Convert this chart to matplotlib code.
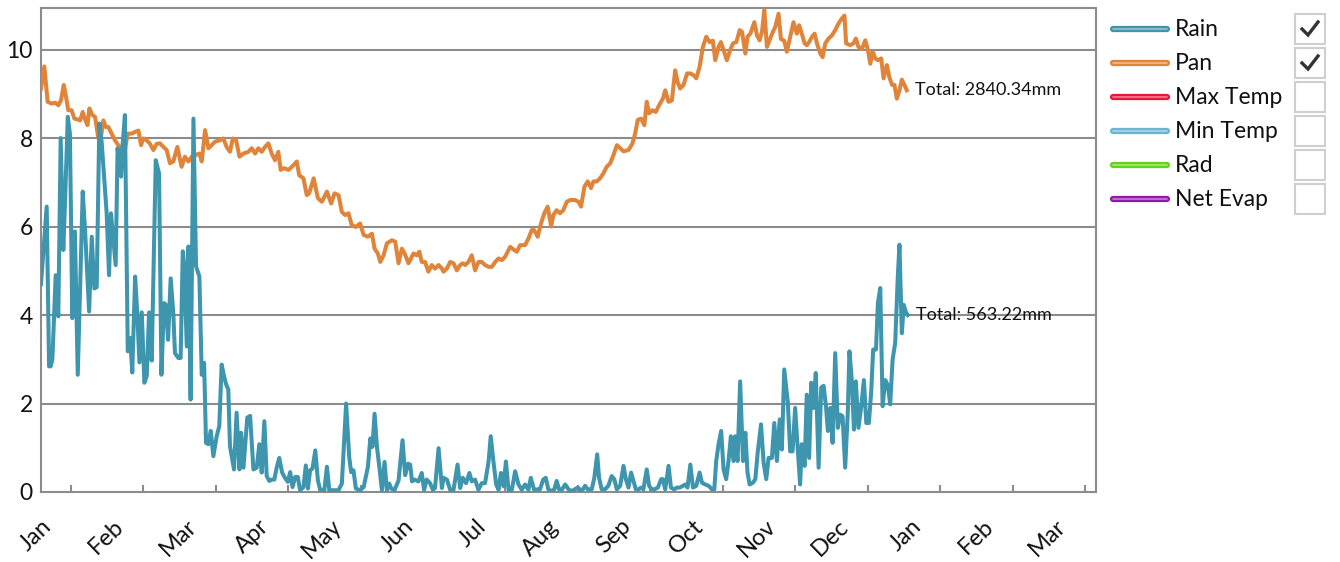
import numpy as np
import matplotlib
matplotlib.use('Agg')
from matplotlib import pyplot as plt
from matplotlib.lines import Line2D
from matplotlib.patches import Rectangle
from matplotlib.transforms import Affine2D

plt.rcParams['font.family'] = ['Lato', 'DejaVu Sans']

# daily values (day of year, mm)
pan_day = [0, 1.4, 2.8, 4.5, 6, 7.3, 8.4, 9.6, 10.4, 11.5, 12.9, 14.1, 15.5, 16.5, 17.6, 18.6,
           19.6, 20.4, 21.7, 22.8, 24.2, 25.3, 26.3, 27.3, 28.4, 29.8, 31.2, 32.6, 34.0, 35.2,
           36.6, 38.3, 39.7, 41.1, 42.2, 43.2, 44.6, 46.0, 47.4, 48.8, 50.2, 51.6, 53.0, 54.4,
           55.8, 57.5, 59.3, 60.7, 62.2, 63.6, 65.4, 66.8, 67.8, 69.2, 70.6, 72.0, 73.4, 75.5,
           76.9, 78.3, 79.7, 80.9, 82.3, 83.7, 85.4, 87.5, 88.9, 90.3, 91.7, 93.1, 94.5, 95.9,
           97.3, 98.7, 100.1, 101.1, 102.5, 104.4, 105.8, 107.9, 108.9, 110.7, 112.1, 113.1,
           115.0, 116.8, 118.5, 120.6, 122.4, 123.8, 125.5, 126.9, 128.3, 129.7, 131.1, 132.8,
           134.6, 136.1, 137.9, 139.6, 140.7, 142.1, 143.1, 144.5, 145.9, 148.0, 149.4, 150.8,
           152.2, 153.4, 155.0, 157.1, 158.5, 159.6, 160.6, 162.0, 163.4, 164.8, 166.2, 167.7,
           169.1, 169.8, 171.2, 172.6, 174.0, 175.4, 176.8, 177.9, 178.9, 180.3, 181.7, 183.1,
           184.5, 185.9, 187.3, 188.8, 190.2, 191.6, 193.0, 194.4, 195.8, 197.9, 199.6, 200.7,
           202.1, 204.2, 205.6, 207.0, 208.0, 209.5, 210.9, 212.3, 213.7, 215.2, 216.1, 217.5,
           218.9, 220.3, 221.8, 223.2, 225.3, 226.7, 227.8, 229.2, 230.6, 232.0, 233.0, 234.4,
           235.8, 237.2, 238.6, 240.1, 241.5, 242.9, 244.3, 245.7, 247.8, 249.5, 250.6, 251.7,
           253.1, 254.5, 255.5, 256.5, 257.9, 259.3, 260.7, 262.3, 263.3, 264.7, 266.1, 267.5,
           268.5, 269.6, 271.0, 272.5, 273.9, 275.3, 276.4, 277.8, 279.2, 280.6, 282.0, 283.4,
           284.4, 285.8, 286.8, 287.9, 289.3, 290.7, 291.9, 293.3, 294.7, 295.7, 297.1, 298.0,
           299.2, 300.9, 302.0, 303.1, 304.1, 305.1, 306.2, 307.3, 308.7, 309.7, 311.1, 312.1,
           313.5, 314.6, 316.0, 317.4, 318.8, 319.8, 320.9, 322.1, 323.0, 324.0, 325.2, 326.3,
           327.3, 328.7, 329.7, 330.8, 332.2, 333.6, 335.0, 336.4, 337.8, 338.9, 339.6, 341.3,
           342.7, 343.7, 344.8, 346.3, 347.7, 348.8, 349.8, 350.8, 351.9, 353.0, 354.4, 355.4,
           356.8, 357.8, 359.0, 360.0, 361.0, 362.1, 363.1, 364.2, 365.2]
pan_mm = [9.12, 9.62, 8.82, 8.78, 8.8, 8.74, 8.85, 9.2, 8.98, 8.63, 8.63, 8.44, 8.42, 8.4, 8.59, 8.42,
          8.29, 8.67, 8.52, 8.48, 7.99, 8.03, 8.4, 8.25, 8.25, 8.1, 7.95, 7.84, 7.73, 7.69,
          8.1, 8.1, 8.14, 8.17, 7.84, 7.99, 7.95, 7.87, 7.73, 7.87, 7.88, 7.8, 7.73, 7.43,
          7.47, 7.8, 7.35, 7.58, 7.47, 7.58, 7.62, 7.65, 7.47, 8.18, 7.77, 7.84, 7.92, 7.95,
          7.99, 7.8, 7.69, 7.99, 7.95, 7.58, 7.65, 7.69, 7.77, 7.65, 7.77, 7.69, 7.8, 7.88,
          7.65, 7.5, 7.69, 7.28, 7.32, 7.28, 7.35, 7.47, 7.16, 7.09, 6.71, 6.75,
          7.09, 6.64, 6.56, 6.79, 6.52, 6.75, 6.71, 6.33, 6.26, 6.3, 6.03, 5.99,
          6.07, 5.81, 5.77, 5.84, 5.5, 5.39, 5.2, 5.35, 5.62, 5.69, 5.66, 5.17,
          5.5, 5.39, 5.17, 5.39, 5.35, 5.43, 5.2, 5.2, 4.98, 5.13, 5.05, 5.13,
          5.05, 4.98, 5.05, 5.2, 5.17, 5.01, 5.13, 5.17, 5.13, 5.2, 5.35, 5.01,
          5.2, 5.2, 5.13, 5.09, 5.09, 5.2, 5.28, 5.24, 5.32, 5.54, 5.47, 5.43,
          5.58, 5.58, 5.73, 5.92, 5.92, 5.77, 6.07, 6.3, 6.45, 6.0, 6.26, 6.37,
          6.3, 6.37, 6.56, 6.6, 6.6, 6.56, 6.45, 6.9, 7.02, 6.87, 7.02, 7.02,
          7.09, 7.2, 7.35, 7.43, 7.62, 7.84, 7.77, 7.7, 7.73, 7.88, 8.1, 8.41,
          8.44, 8.29, 8.82, 8.56, 8.63, 8.59, 8.74, 8.89, 9.08, 8.82, 8.85, 9.53,
          9.27, 9.12, 9.2, 9.46, 9.46, 9.42, 9.35, 9.61, 10.06, 10.29, 10.17, 10.2,
          9.76, 10.06, 10.17, 9.99, 9.76, 9.99, 10.14, 10.17, 10.44, 10.4, 9.91, 10.29,
          10.36, 10.62, 10.32, 10.21, 10.4, 10.89, 10.06, 10.21, 10.4, 10.51, 10.81, 10.24,
          10.2, 9.95, 10.29, 10.62, 10.36, 10.55, 10.36, 10.14, 10.1, 10.17, 10.29, 10.36,
          10.14, 9.91, 9.83, 10.14, 10.25, 10.32, 10.44, 10.59, 10.7, 10.77, 10.14, 10.1,
          10.14, 10.25, 10.06, 10.02, 10.21, 9.99, 9.68, 9.95, 9.8, 9.76, 9.8, 9.35,
          9.65, 9.38, 9.2, 9.2, 8.89, 9.08, 9.32, 9.2, 9.08]

rain_day = [0, 2.4, 3.4, 4.1, 4.8, 6.2, 7.3, 8.3, 9.4, 10.1, 11.3, 12.2, 13.2, 14.3, 15.5, 17.6,
            18.6, 20.3, 21.4, 22.5, 23.5, 24.6, 25.6, 27.7, 28.7, 29.5, 31.5, 32.3, 33.8, 34.3,
            35.4, 36.6, 37.6, 38.5, 39.7, 40.6, 41.5, 42.5, 43.6, 44.6, 45.6, 46.7, 48.4, 49.8,
            50.8, 51.9, 52.7, 53.6, 54.7, 55.8, 56.5, 57.9, 58.9, 59.8, 60.3, 61.5, 62.2, 63.1,
            64.3, 65.4, 66.8, 67.8, 68.8, 69.6, 70.6, 71.6, 72.7, 74.1, 75.2, 76.2, 77.2, 78.1,
            79.0, 79.7, 81.4, 82.5, 83.7, 84.4, 85.4, 87.0, 88.2, 89.6, 91.0, 92.1, 93.1, 94.2,
            95.2, 96.3, 97.3, 98.4, 99.4, 100.5, 101.7, 102.9, 104.1, 105.1, 106.1, 107.2, 108.3,
            109.3, 110.7, 111.7, 112.6, 113.5, 114.5, 115.7, 116.8, 117.8, 119.5, 120.6, 121.6,
            123.4, 125.5, 126.9, 128.7, 130.0, 130.8, 131.8, 132.8, 134.6, 136.1, 137.9, 138.9,
            139.8, 140.7, 141.7, 142.7, 143.8, 144.9, 145.9, 146.9, 147.7, 149.1, 150.8, 152.5,
            153.6, 154.8, 155.7, 156.5, 157.5, 159.2, 160.6, 161.6, 162.7, 164.1, 165.3, 166.2,
            167.7, 169.1, 169.8, 171.2, 172.6, 174.0, 175.7, 176.8, 177.9, 179.3, 180.7, 181.7,
            183.1, 184.5, 185.9, 187.3, 188.8, 189.7, 190.9, 192.0, 193.0, 194.0, 195.1, 196.1,
            197.2, 198.6, 200.0, 201.4, 202.8, 204.2, 205.6, 206.6, 208.0, 209.5, 210.5, 211.8,
            212.9, 214.0, 215.4, 216.5, 217.5, 218.5, 219.8, 221.1, 222.5, 223.9, 226.4, 228.1,
            229.5, 230.6, 232.3, 233.4, 234.6, 235.4, 236.5, 237.9, 239.3, 240.7, 241.8, 242.9,
            244.3, 245.7, 246.7, 247.8, 248.9, 249.9, 250.9, 252.0, 253.1, 254.1, 255.5, 256.5,
            257.6, 258.8, 260.2, 261.6, 262.3, 263.3, 264.7, 265.7, 267.1, 268.2, 269.4, 270.8,
            271.7, 272.7, 273.9, 275.0, 276.4, 277.8, 278.8, 280.2, 281.6, 283.0, 284.0, 284.8,
            285.8, 286.9, 287.9, 289.0, 290.0, 291.0, 292.1, 292.8, 293.8, 294.9, 296.1, 297.1,
            298.0, 298.9, 300.3, 301.3, 302.3, 303.7, 304.8, 305.9, 306.9, 308.3, 309.3, 310.4,
            311.6, 312.5, 313.5, 315.0, 316.0, 317.0, 318.1, 319.2, 320.2, 320.9, 322.1, 323.0,
            324.0, 324.9, 325.9, 326.8, 328.0, 329.1, 330.1, 331.1, 331.9, 332.9, 333.9, 335.0,
            336.1, 337.1, 338.1, 339.2, 340.3, 341.0, 342.0, 342.9, 343.7, 344.8, 346.0, 347.1,
            348.1, 349.2, 350.2, 351.0, 352.2, 353.0, 354.0, 355.0, 356.1, 357.2, 358.2, 359.2,
            360.3, 361.4, 362.1, 363.1, 363.9, 364.9, 365.6]
rain_mm = [4.7, 6.45, 2.84, 2.84, 3.0, 4.9, 3.97, 8.0, 5.47, 6.5, 8.48, 8.1, 3.93, 5.89, 2.65, 6.79,
           5.9, 4.08, 5.77, 4.6, 4.63, 8.33, 7.9, 6.3, 4.9, 6.3, 5.13, 7.77, 7.13, 7.77,
           8.52, 3.18, 3.48, 2.7, 4.87, 4.06, 2.93, 4.06, 2.47, 2.62, 4.06, 2.97, 7.5, 7.2,
           2.65, 4.27, 4.23, 3.44, 4.83, 4.05, 3.14, 3.03, 3.03, 5.44, 5.2, 3.29, 5.55, 2.09,
           8.44, 5.1, 4.87, 2.65, 2.92, 1.11, 1.08, 1.38, 0.81, 1.26, 1.49, 2.88, 2.62, 2.43,
           2.32, 1.04, 0.51, 1.79, 0.51, 1.34, 0.55, 1.68, 1.72, 0.51, 0.55, 1.08, 0.44, 1.6,
           0.36, 0.25, 0.28, 0.28, 0.55, 0.77, 0.44, 0.32, 0.23, 0.45, 0.11, 0.34, 0.34,
           0.04, 0.11, 0.6, 0.08, 0.49, 0.53, 0.94, 0.26, 0.04, 0.04, 0.57, 0.04,
           0.04, 0.04, 0.19, 2.0, 0.79, 0.45, 0.49, 0.08, 0.04, 0.11, 0.57, 1.21,
           1.02, 1.77, 1.02, 0.57, 0.04, 0.68, 0.04, 0.19, 0.08, 0.04, 0.26, 1.17,
           0.38, 0.64, 0.62, 0.24, 0.28, 0.24, 0.43, 0.05, 0.28, 0.2, 0.05, 0.09,
           0.99, 0.09, 0.32, 0.28, 0.05, 0.05, 0.62, 0.09, 0.32, 0.2, 0.43, 0.24,
           0.28, 0.05, 0.2, 0.2, 0.69, 1.26, 0.66, 0.17, 0.05, 0.43, 0.13, 0.69,
           0.05, 0.05, 0.47, 0.17, 0.05, 0.17, 0.05, 0.32, 0.05, 0.06, 0.06, 0.28,
           0.32, 0.06, 0.02, 0.06, 0.25, 0.06, 0.06, 0.17, 0.06, 0.02, 0.1, 0.02,
           0.14, 0.06, 0.06, 0.32, 0.85, 0.32, 0.06, 0.06, 0.14, 0.36, 0.29, 0.06,
           0.14, 0.59, 0.29, 0.1, 0.44, 0.25, 0.06, 0.06, 0.1, 0.06, 0.51, 0.14,
           0.06, 0.06, 0.1, 0.29, 0.29, 0.06, 0.59, 0.1, 0.06, 0.1, 0.1, 0.14,
           0.17, 0.1, 0.62, 0.1, 0.14, 0.44, 0.21, 0.17, 0.14, 0.06, 0.06, 0.7,
           1.08, 1.38, 0.51, 0.29, 0.7, 1.26, 0.7, 1.26, 0.7, 2.5, 0.7, 1.34,
           0.44, 0.17, 0.21, 0.29, 0.89, 1.53, 0.66, 0.29, 0.77, 0.77, 1.56, 0.7,
           1.64, 0.96, 2.77, 2.03, 0.92, 0.92, 1.9, 0.96, 0.17, 1.08, 0.59, 2.2,
           0.77, 2.47, 1.9, 2.69, 0.55, 2.36, 2.4, 1.94, 1.38, 1.9, 1.11, 3.14,
           1.45, 1.75, 1.71, 0.55, 1.79, 3.18, 2.53, 1.41, 2.5, 1.45, 1.94, 2.53,
           1.56, 1.56, 2.28, 3.22, 3.22, 4.27, 4.61, 1.94, 2.53, 2.41, 1.98, 2.99,
           3.37, 4.87, 5.59, 3.59, 4.23, 4.05, 4.0]

rain_total = 563.22
pan_total = 2840.34

months = ['Jan', 'Feb', 'Mar', 'Apr', 'May', 'Jun', 'Jul', 'Aug', 'Sep', 'Oct', 'Nov', 'Dec',
          'Jan', 'Feb', 'Mar']

series_names = ['Rain', 'Pan', 'Max Temp', 'Min Temp', 'Rad', 'Net Evap']
series_colors = ['#3d95ae', '#e0843a', '#e8173a', '#6ab4d2', '#62d51a', '#8e1aa6']
series_on = [True, True, False, False, False, False]

W, H = 1340, 562
fig = plt.figure(figsize=(W / 100, H / 100), dpi=100)
# pixel coords, y going down, for the hand-drawn legend
px = Affine2D().scale(1 / W, -1 / H).translate(0, 1) + fig.transFigure

ax = fig.add_axes([41 / W, 1 - 492 / H, (1096 - 41) / W, (492 - 8) / H])
grid_col = '#8c8c8c'

ax.plot(pan_day, pan_mm, color=series_colors[1], lw=2.9, solid_joinstyle='round', zorder=3)
ax.plot(rain_day, rain_mm, color=series_colors[0], lw=2.9, solid_joinstyle='round', zorder=3)

ax.annotate('Total: %.2fmm' % pan_total, xy=(pan_day[-1], pan_mm[-1]), xytext=(6, 0),
            textcoords='offset points', va='center', fontsize=13, color='#111111')
ax.annotate('Total: %.2fmm' % rain_total, xy=(rain_day[-1], rain_mm[-1]), xytext=(6, 0),
            textcoords='offset points', va='center', fontsize=13, color='#111111')

ax.set_yticks([0, 2, 4, 6, 8, 10])
ax.tick_params(axis='y', length=0, pad=6, labelsize=16.5, labelcolor='#111111')
for yv in [2, 4, 6, 8, 10]:
    ax.axhline(yv, color=grid_col, lw=1.5, zorder=1)
for s in ax.spines.values():
    s.set_color(grid_col)
    s.set_linewidth(1.5)

month_len = 30.57
ax.set_xticks(12.5 + np.arange(len(months)) * month_len)
ax.set_xticklabels([])
ax.tick_params(axis='x', which='major', direction='in', length=5, width=1.5, color=grid_col)
ax.set_xticks(np.arange(len(months)) * month_len, months, minor=True)
ax.tick_params(axis='x', which='minor', length=0, pad=17, labelsize=17, labelcolor='#111111')
plt.setp(ax.get_xticklabels(minor=True), rotation=44, ha='right', rotation_mode='anchor')

ax.set_xlim(0, 445)
ax.set_ylim(0, 10.94)

# legend with checkboxes on the right
for i, name in enumerate(series_names):
    y = 29 + i * 34
    c = series_colors[i]
    fig.add_artist(Line2D([1113, 1167], [y, y], transform=px, color=c, lw=4.5,
                          solid_capstyle='round'))
    light = 0.55 * np.array(matplotlib.colors.to_rgb(c)) + 0.45
    fig.add_artist(Line2D([1113, 1167], [y, y], transform=px, color=light, lw=1.2,
                          solid_capstyle='round'))
    fig.text(1175, y, name, transform=px, va='center', ha='left', fontsize=16.5, color='#111111')
    fig.add_artist(Rectangle((1295, y - 15), 30, 30, transform=px, facecolor='white',
                             edgecolor='#cfcfcf', lw=1.5))
    if series_on[i]:
        fig.add_artist(Line2D([1302, 1308, 1318], [y, y + 6, y - 7], transform=px,
                              color='#333333', lw=2.4, solid_joinstyle='miter'))

fig.savefig('out.png', dpi=100)
